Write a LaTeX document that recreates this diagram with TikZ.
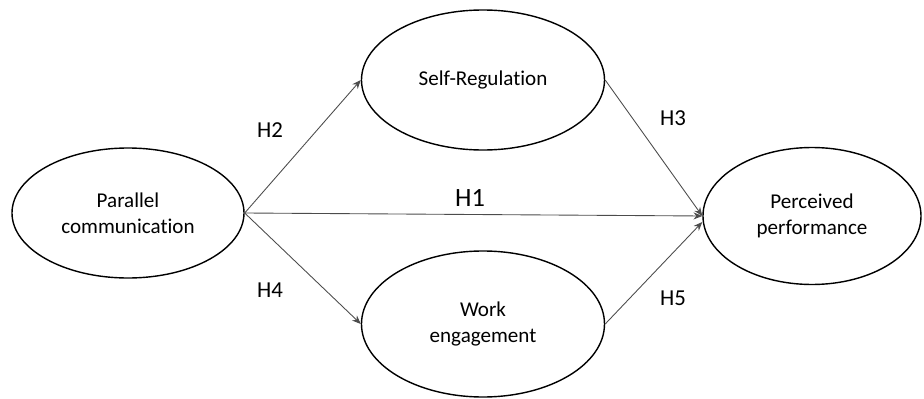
\documentclass[tikz,border=0pt]{standalone}
\usepackage{fontspec}
\setmainfont{Carlito}[Ligatures=NoCommon]
\usetikzlibrary{shapes,arrows,positioning,calc,arrows.meta}

\begin{document}
\begin{tikzpicture}[x=0.02cm, y=-0.02cm,
        construct/.style={draw, ellipse, line width=0.8pt, inner sep=0pt, align=center,
            font=\fontsize{12}{15}\selectfont},
        path/.style={draw=black!70, line width=0.5pt, -{Stealth[length=5pt,width=4pt]}},
        hyp/.style={font=\fontsize{13}{15}\selectfont}
    ]
        \useasboundingbox (0,0) rectangle (924,399);

        \node [construct, minimum width=232*0.02cm, minimum height=130*0.02cm] (pc) at (128,213) {Parallel\\communication};
        \node [construct, minimum width=243*0.02cm, minimum height=140*0.02cm] (sr) at (483,80) {Self-Regulation};
        \node [construct, minimum width=243*0.02cm, minimum height=146*0.02cm] (we) at (483,324) {Work\\engagement};
        \node [construct, minimum width=218*0.02cm, minimum height=137*0.02cm] (pp) at (812,216) {Perceived\\performance};

        \draw [path] (pc.east) -- (sr.west);
        \draw [path] (pc.east) -- (pp.west);
        \draw [path] (pc.east) -- (we.west);
        \draw [path] (sr.east) -- (pp.west);
        \draw [path] (we.east) -- ($(pp.west)+(0,6)$);

        \node [hyp] (h2) at (270,130) {H2};
        \node [hyp, font=\fontsize{15}{17}\selectfont] (h1) at (470,198) {H1};
        \node [hyp] (h3) at (673,118) {H3};
        \node [hyp] (h4) at (270,290) {H4};
        \node [hyp] (h5) at (673,298) {H5};

    \end{tikzpicture}
\end{document}
